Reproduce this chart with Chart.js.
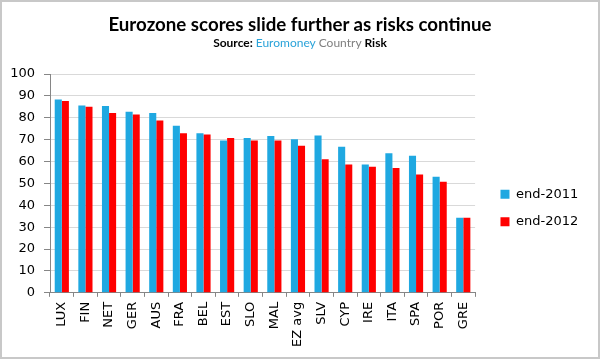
<!DOCTYPE html>
<html>
<head>
<meta charset="utf-8">
<script src="https://cdn.jsdelivr.net/npm/chart.js@4/dist/chart.umd.min.js"></script>
<style>
  html, body { margin: 0; padding: 0; background: #fff; }
  #wrap { position: relative; width: 600px; height: 359px; box-sizing: border-box; border: 2px solid #c8c8c8; overflow: hidden; }
  #title { position: absolute; left: 0; width: 100%; top: 12.7px; line-height: 1; text-align: center; font-family: Lato, sans-serif; font-weight: bold; font-size: 18.7px; color: #000; }
  #sub { position: absolute; left: 0; width: 100%; top: 35.3px; line-height: 1; text-align: center; font-family: Lato, sans-serif; font-weight: bold; font-size: 12px; color: #000; }
  #sub .b { color: #2aa3d9; font-weight: normal; }
  #sub .g { color: #7f7f7f; font-weight: normal; }
  canvas { position: absolute; left: 0; top: 0; }
</style>
</head>
<body>
<div id="wrap">
  <canvas id="c" width="596" height="355"></canvas>
  <div id="title">Eurozone scores slide further as risks continue</div>
  <div id="sub">Source: <span class="b">Euromoney</span> <span class="g">Country</span> Risk</div>
</div>
<script>
const categories = ["LUX","FIN","NET","GER","AUS","FRA","BEL","EST","SLO","MAL","EZ avg","SLV","CYP","IRE","ITA","SPA","POR","GRE"];
const end2011 = [88.3, 85.6, 85.4, 82.7, 82.2, 76.3, 72.9, 69.6, 70.7, 71.7, 70.2, 71.9, 66.7, 58.7, 63.8, 62.6, 53.0, 34.3];
const end2012 = [87.7, 85.0, 82.2, 81.5, 78.7, 72.9, 72.3, 70.7, 69.6, 69.6, 67.2, 61.1, 58.7, 57.6, 57.1, 54.1, 50.8, 34.3];
const seriesLabels = ["end-2011", "end-2012"];
const yTicks = { min: 0, max: 100, step: 10 };

const tickFont = { family: "'DejaVu Sans', sans-serif", size: 13 };

new Chart(document.getElementById('c'), {
  type: 'bar',
  data: {
    labels: categories,
    datasets: [
      { label: seriesLabels[0], data: end2011, backgroundColor: '#1fa8e1', borderWidth: 0, xAxisID: 'x', yAxisID: 'y' },
      { label: seriesLabels[1], data: end2012, backgroundColor: '#ff0000', borderWidth: 0, xAxisID: 'x', yAxisID: 'y' }
    ]
  },
  options: {
    responsive: false,
    animation: false,
    devicePixelRatio: 1,
    categoryPercentage: 0.6,
    barPercentage: 1.0,
    layout: { padding: { top: 62, left: 8, right: 16.7, bottom: 5 } },
    plugins: {
      title: { display: false },
      tooltip: { enabled: false },
      legend: {
        position: 'right',
        align: 'center',
        labels: {
          boxWidth: 9, boxHeight: 9, padding: 14.4,
          color: '#000',
          font: { family: "'DejaVu Sans', sans-serif", size: 13 }
        }
      }
    },
    scales: {
      x: {
        grid: { drawOnChartArea: false, drawTicks: true, tickLength: 4, offset: true, color: '#868686' },
        border: { color: '#868686' },
        ticks: { color: '#000', font: tickFont, maxRotation: 90, minRotation: 90, autoSkip: false, padding: 5 }
      },
      xT: {
        type: 'category',
        position: 'top',
        display: true,
        grid: { display: false, drawTicks: false },
        border: { display: false },
        ticks: { display: false },
        afterFit: (s) => { s.height = 10; }
      },
      y: {
        min: yTicks.min, max: yTicks.max,
        grid: { color: '#d9d9d9', tickLength: 6, drawTicks: true, tickColor: '#868686' },
        border: { color: '#868686' },
        ticks: { stepSize: yTicks.step, color: '#000', font: tickFont, padding: 9 },
        afterFit: (s) => { s.width = 40; }
      },
      yR: {
        position: 'right',
        display: true,
        grid: { display: false, drawTicks: false },
        border: { display: false },
        ticks: { display: false },
        afterFit: (s) => { s.width = 11; }
      }
    }
  }
});
</script>
</body>
</html>
